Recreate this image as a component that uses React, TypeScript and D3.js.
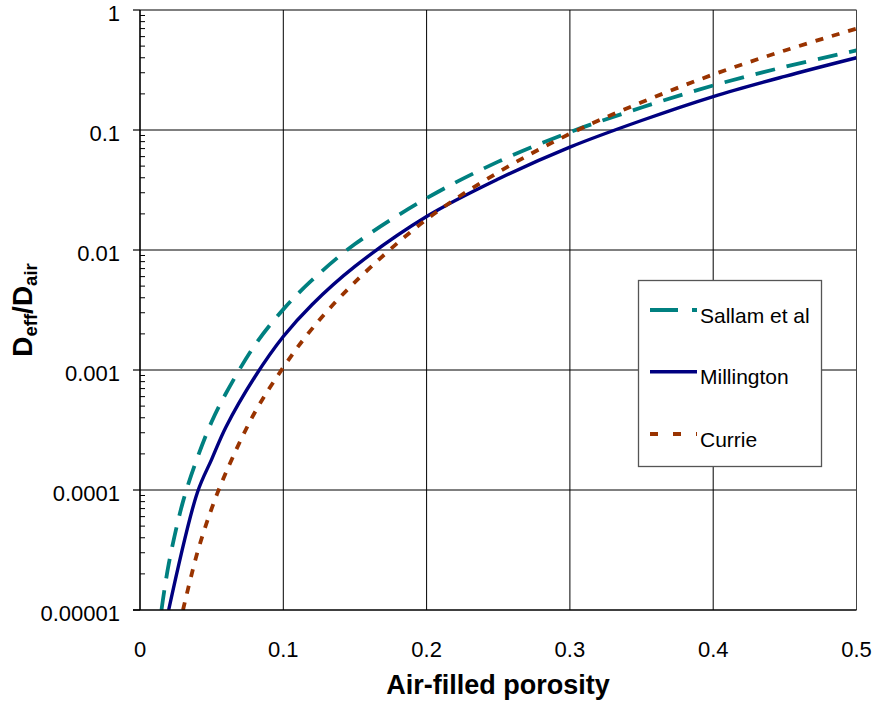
import React from "react";
import * as d3 from "d3";

const sallamX = [0.015, 0.02, 0.03, 0.04, 0.05, 0.06, 0.08, 0.1, 0.12, 0.15, 0.2, 0.25, 0.3, 0.35, 0.4, 0.45, 0.5];
const sallamY = [1.0e-5, 2.4e-5, 8.0e-5, 1.85e-4, 3.7e-4, 6.4e-4, 1.6e-3, 3.2e-3, 5.6e-3, 0.0112, 0.027, 0.0545, 0.096, 0.154, 0.235, 0.336, 0.46];

const millingtonX = [0.02, 0.04, 0.05, 0.06, 0.08, 0.1, 0.12, 0.15, 0.2, 0.25, 0.3, 0.35, 0.4, 0.45, 0.5];
const millingtonY = [1.0e-5, 9.5e-5, 1.8e-4, 3.35e-4, 8.7e-4, 1.9e-3, 3.5e-3, 7.3e-3, 0.019, 0.039, 0.072, 0.12, 0.19, 0.28, 0.4];

const currieX = [0.03, 0.04, 0.05, 0.06, 0.08, 0.1, 0.12, 0.15, 0.2, 0.25, 0.3, 0.35, 0.4, 0.45, 0.5];
const currieY = [1.0e-5, 3.0e-5, 7.0e-5, 1.4e-4, 4.4e-4, 1.05e-3, 2.2e-3, 5.4e-3, 0.018, 0.0444, 0.093, 0.17, 0.29, 0.46, 0.7];

const xTicks = [0, 0.1, 0.2, 0.3, 0.4, 0.5];
const xTickLabels = ["0", "0.1", "0.2", "0.3", "0.4", "0.5"];
const yTicks = [1, 0.1, 0.01, 0.001, 0.0001, 0.00001];
const yTickLabels = ["1", "0.1", "0.01", "0.001", "0.0001", "0.00001"];

const seriesNames = ["Sallam et al", "Millington", "Currie"];

const FONT = "'Liberation Sans', Arial, Helvetica, sans-serif";

export default function App() {
  const left = 140, right = 856.5, top = 10, bottom = 610;
  const x = d3.scaleLinear().domain([0, 0.5]).range([left, right]);
  const y = d3.scaleLog().domain([1e-5, 1]).range([bottom, top]);

  const line = d3
    .line<[number, number]>()
    .x((d) => x(d[0]))
    .y((d) => y(d[1]))
    .curve(d3.curveCatmullRom.alpha(0.5));

  const series = [
    { name: seriesNames[0], xs: sallamX, ys: sallamY, color: "#008080", width: 3.8, dash: "20,12", legendDash: "28,14" },
    { name: seriesNames[1], xs: millingtonX, ys: millingtonY, color: "#000080", width: 3.4, dash: "none", legendDash: "none" },
    { name: seriesNames[2], xs: currieX, ys: currieY, color: "#993300", width: 3.8, dash: "8,9", legendDash: "8,15" },
  ];

  const minorTicks: number[] = [];
  for (let e = -5; e < 0; e++) {
    for (let k = 2; k <= 9; k++) minorTicks.push(k * Math.pow(10, e));
  }

  const legendX = 638.5, legendY = 280.5, legendW = 183, legendH = 186;
  const legendRows = [310, 371.7, 434];

  return (
    <svg
      width={872}
      height={702}
      style={{ position: "absolute", left: 0, top: 0, background: "#fff" }}
      fontFamily={FONT}
    >
      <rect x={0} y={0} width={872} height={702} fill="#fff" />
      <defs>
        <clipPath id="plotclip">
          <rect x={left} y={top} width={right - left} height={bottom - top} />
        </clipPath>
      </defs>

      {/* gridlines */}
      {yTicks.slice(1, -1).map((t) => (
        <line key={"hg" + t} x1={left} x2={right} y1={y(t)} y2={y(t)} stroke="#000" strokeWidth={1} />
      ))}
      {xTicks.slice(1, -1).map((t) => (
        <line key={"vg" + t} x1={x(t)} x2={x(t)} y1={top} y2={bottom} stroke="#000" strokeWidth={1} />
      ))}

      {/* plot border */}
      <line x1={left} x2={right} y1={top} y2={top} stroke="#000" strokeWidth={1.2} />
      <line x1={right} x2={right} y1={top} y2={bottom} stroke="#444" strokeWidth={1} />

      {/* curves */}
      <g clipPath="url(#plotclip)">
        {series.map((s) => (
          <path
            key={s.name}
            d={line(s.xs.map((v, i) => [v, s.ys[i]] as [number, number])) || ""}
            fill="none"
            stroke={s.color}
            strokeWidth={s.width}
            strokeDasharray={s.dash}
            strokeLinejoin="round"
          />
        ))}
      </g>

      {/* axes */}
      <line x1={left} x2={left} y1={top} y2={bottom} stroke="#000" strokeWidth={1.6} />
      <line x1={left - 7} x2={right} y1={bottom} y2={bottom} stroke="#000" strokeWidth={1.4} />
      {yTicks.map((t) => (
        <line key={"mt" + t} x1={left - 7} x2={left} y1={y(t)} y2={y(t)} stroke="#000" strokeWidth={1.2} />
      ))}
      {minorTicks.map((t) => (
        <line key={"mn" + t} x1={left} x2={left + 5} y1={y(t)} y2={y(t)} stroke="#000" strokeWidth={1} />
      ))}

      {/* tick labels */}
      {yTicks.map((t, i) => (
        <text key={"yl" + t} x={120} y={y(t) + 10.8} textAnchor="end" fontSize={22} fill="#000">
          {yTickLabels[i]}
        </text>
      ))}
      {xTicks.map((t, i) => (
        <text key={"xl" + t} x={x(t)} y={657} textAnchor="middle" fontSize={22} fill="#000">
          {xTickLabels[i]}
        </text>
      ))}

      {/* axis titles */}
      <text x={498} y={694} textAnchor="middle" fontSize={27} fontWeight="bold" fill="#000">
        Air-filled porosity
      </text>
      <text
        transform="translate(32,310) rotate(-90)"
        textAnchor="middle"
        fontSize={28}
        fontWeight="bold"
        fill="#000"
      >
        D<tspan fontSize={18.5} dy={5}>eff</tspan>
        <tspan dy={-5}>/D</tspan>
        <tspan fontSize={18.5} dy={5}>air</tspan>
      </text>

      {/* legend */}
      <rect x={legendX} y={legendY} width={legendW} height={legendH} fill="#fff" stroke="#555" strokeWidth={1.3} />
      {series.map((s, i) => (
        <g key={"lg" + s.name}>
          <line
            x1={650}
            x2={697}
            y1={legendRows[i]}
            y2={legendRows[i]}
            stroke={s.color}
            strokeWidth={s.width}
            strokeDasharray={s.legendDash}
          />
          <text x={700} y={legendRows[i] + 12.5} fontSize={21} fill="#000">
            {s.name}
          </text>
        </g>
      ))}
    </svg>
  );
}
